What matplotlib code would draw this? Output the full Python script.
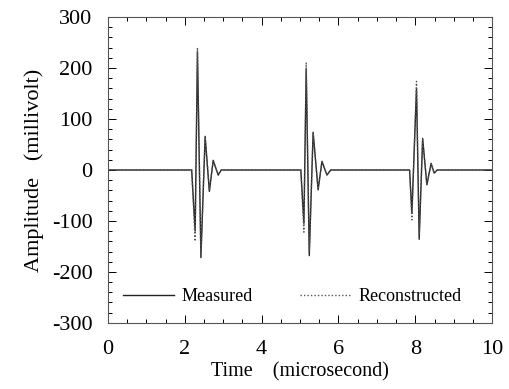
# waveform: measured vs reconstructed
import numpy as np
import matplotlib.pyplot as plt
from matplotlib.ticker import MultipleLocator

plt.rcParams['font.family'] = ['Liberation Serif', 'DejaVu Serif']
plt.rcParams['axes.unicode_minus'] = False

# vertices (time in microsecond, amplitude in millivolt)
time = [0.0,
        2.18, 2.27, 2.33, 2.42, 2.53, 2.64, 2.74, 2.87, 2.95,
        5.02, 5.10, 5.16, 5.24, 5.34, 5.47, 5.57, 5.70, 5.80,
        7.85, 7.91, 8.03, 8.10, 8.19, 8.30, 8.41, 8.49, 8.57,
        10.0]
measured = [0,
            0, -120, 232, -172, 66, -42, 19, -10, 0,
            0, -105, 198, -168, 74, -39, 17, -10, 0,
            0, -85, 160, -136, 62, -29, 13, -6, 0,
            0]
reconstructed = [0,
                 0, -140, 240, -165, 64, -40, 18, -9, 0,
                 0, -122, 211, -160, 72, -37, 16, -9, 0,
                 0, -98, 174, -128, 60, -28, 12, -6, 0,
                 0]

fig = plt.figure(figsize=(5.09, 3.89), dpi=100)
ax = fig.add_axes([0.212, 0.170, 0.755, 0.786])

ax.plot(time, measured, color='#222222', lw=1.0, label='Measured')
ax.plot(time, reconstructed, color='#555555', lw=1.0, linestyle=(0, (1, 1.5)),
        label='Reconstructed')

ax.set_xlim(0, 10)
ax.set_ylim(-300, 300)
ax.xaxis.set_major_locator(MultipleLocator(2))
ax.xaxis.set_minor_locator(MultipleLocator(0.5))
ax.yaxis.set_major_locator(MultipleLocator(100))
ax.yaxis.set_minor_locator(MultipleLocator(20))
ax.tick_params(which='both', direction='in', top=True, right=True, width=0.7)
ax.tick_params(which='major', length=6, labelsize=16)
ax.tick_params(axis='x', which='major', pad=12)
ax.tick_params(axis='y', which='major', pad=11)
ax.tick_params(which='minor', length=3)
for s in ax.spines.values():
    s.set_linewidth(0.8)
    s.set_color('#555555')

ax.set_xlabel('Time    (microsecond)', fontsize=14.5)
ax.xaxis.set_label_coords(0.5, -0.128)
ax.set_ylabel('Amplitude   (millivolt)', fontsize=16, labelpad=6)

ax.legend(loc='center', ncol=2, frameon=False, fontsize=13,
          handlelength=2.8, handletextpad=0.45, columnspacing=2.6,
          bbox_to_anchor=(0.48, 0.085))

plt.savefig('out.png', dpi=100)
